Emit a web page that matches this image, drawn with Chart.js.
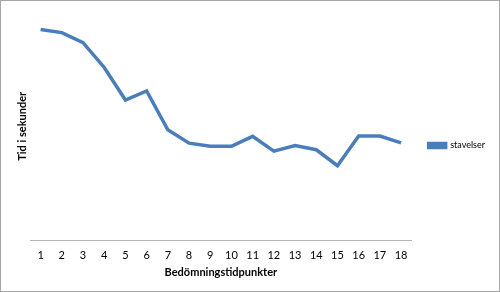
<!DOCTYPE html>
<html>
<head>
<meta charset="utf-8">
<script src="https://cdn.jsdelivr.net/npm/chart.js@4/dist/chart.umd.min.js"></script>
<style>
  html, body { margin: 0; padding: 0; background: #fff; }
  #wrap { width: 500px; height: 292px; box-sizing: border-box; border: 1px solid #a6a6a6; }
  canvas { display: block; }
</style>
</head>
<body>
<div id="wrap"><canvas id="chart" width="498" height="290"></canvas></div>
<script>
const categories = ["1", "2", "3", "4", "5", "6", "7", "8", "9", "10", "11", "12", "13", "14", "15", "16", "17", "18"];
const stavelser = [73.9, 72.8, 69.3, 60.6, 49.2, 52.4, 38.8, 34.1, 33.0, 33.0, 36.5, 31.3, 33.3, 31.8, 26.2, 36.6, 36.6, 34.2];
const seriesName = "stavelser";
const xTitle = "Bedömningstidpunkter";
const yTitle = "Tid i sekunder";

const fontFamily = "Lato, 'Open Sans', sans-serif";

const ctx = document.getElementById("chart").getContext("2d");
new Chart(ctx, {
    type: "line",
    data: {
        labels: categories,
        datasets: [{
            label: seriesName,
            data: stavelser,
            borderColor: "#4a7ebb",
            backgroundColor: "#4a7ebb",
            borderWidth: 3.5,
            pointRadius: 0,
            tension: 0,
            fill: false
        }]
    },
    options: {
        responsive: false,
        animation: false,
        layout: { padding: { left: 15, top: 11, right: 4, bottom: 12 } },
        plugins: {
            legend: {
                display: true,
                position: "right",
                labels: {
                    boxWidth: 17,
                    boxHeight: 4,
                    padding: 17,
                    color: "#000",
                    font: { family: fontFamily, size: 9 }
                }
            },
            tooltip: { enabled: false }
        },
        scales: {
            x: {
                offset: true,
                grid: { display: true, drawOnChartArea: false, drawTicks: false },
                border: { display: true, color: "#b3b3b3", width: 1 },
                ticks: {
                    padding: 8,
                    color: "#000",
                    maxRotation: 0,
                    autoSkip: false,
                    font: { family: fontFamily, size: 11 }
                },
                title: {
                    display: true,
                    text: xTitle,
                    color: "#000",
                    padding: { top: -4, bottom: 0 },
                    font: { family: fontFamily, size: 11, weight: "bold" }
                }
            },
            y: {
                min: 0,
                max: 80,
                grid: { display: false },
                border: { display: false },
                ticks: { display: false },
                title: {
                    display: true,
                    text: yTitle,
                    color: "#000",
                    padding: { top: 0, bottom: 0 },
                    font: { family: fontFamily, size: 11, weight: "bold" }
                },
                afterFit: (scale) => { scale.width = 14; }
            }
        }
    }
});
</script>
</body>
</html>
